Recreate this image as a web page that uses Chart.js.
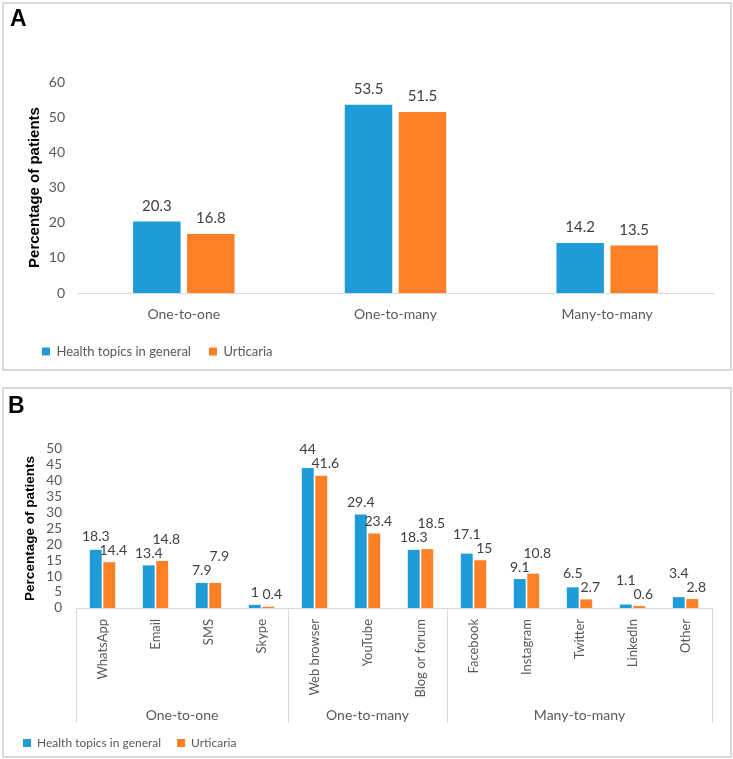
<!DOCTYPE html>
<html>
<head>
<meta charset="utf-8">
<script src="https://cdn.jsdelivr.net/npm/chart.js@4.4.1/dist/chart.umd.min.js"></script>
<style>
  body { margin: 0; background: #fff; width: 733px; height: 759px; position: relative; overflow: hidden; }
  .frame { position: absolute; border: 2px solid #d9d9d9; box-sizing: border-box; }
  .wrap { position: absolute; }
  .tag { position: absolute; font: bold 23px/23px 'Liberation Sans', Arial, sans-serif; color: #000; }
</style>
</head>
<body>
<div class="frame" style="left:2px;top:2px;width:730px;height:369px"></div>
<div class="frame" style="left:2px;top:387px;width:730px;height:371px"></div>
<div class="wrap" style="left:4px;top:4px;width:726px;height:364px"><canvas id="chartA"></canvas></div>
<div class="wrap" style="left:4px;top:389px;width:726px;height:370px"><canvas id="chartB"></canvas></div>
<div class="tag" style="left:10px;top:7px">A</div>
<div class="tag" style="left:8px;top:394px">B</div>
<script>
  // series
  const seriesNames = ['Health topics in general', 'Urticaria'];
  const seriesColors = ['#1f9cd8', '#fe7f26'];

  // panel A: type of communication
  const typeLabels = ['One-to-one', 'One-to-many', 'Many-to-many'];
  const typeGeneral = [20.3, 53.5, 14.2];
  const typeUrticaria = [16.8, 51.5, 13.5];

  // panel B: channel
  const channelLabels = ['WhatsApp', 'Email', 'SMS', 'Skype', 'Web browser', 'YouTube',
    'Blog or forum', 'Facebook', 'Instagram', 'Twitter', 'LinkedIn', 'Other'];
  const channelGeneral = [18.3, 13.4, 7.9, 1, 44, 29.4, 18.3, 17.1, 9.1, 6.5, 1.1, 3.4];
  const channelUrticaria = [14.4, 14.8, 7.9, 0.4, 41.6, 23.4, 18.5, 15, 10.8, 2.7, 0.6, 2.8];
  const channelGroups = ['One-to-one', 'One-to-many', 'Many-to-many'];
  const channelGroupSizes = [4, 3, 5];

  const yTitle = 'Percentage of patients';

  Chart.defaults.font.family = 'Lato';
  Chart.defaults.color = '#595959';

  // number above every bar; if the two labels of a category collide,
  // the one of the taller bar is lifted (like the original)
  const valueLabels = {
    id: 'valueLabels',
    afterDatasetsDraw(chart, args, opts) {
      const ctx = chart.ctx;
      const h = opts.size;
      ctx.save();
      ctx.font = opts.size + 'px Lato';
      ctx.fillStyle = '#404040';
      ctx.textAlign = 'center';
      ctx.textBaseline = 'bottom';
      const ds = chart.data.datasets;
      const metas = ds.map((d, i) => chart.getDatasetMeta(i));
      chart.data.labels.forEach((lab, j) => {
        const items = ds.map((d, i) => {
          const bar = metas[i].data[j];
          const text = String(d.data[j]);
          const w = ctx.measureText(text).width;
          const x = bar.x + (opts.shift ? opts.shift[i] : 0);
          return { text, x, y: bar.y - opts.offset, w, v: d.data[j] };
        });
        if (opts.avoid && items.length === 2) {
          const [a, b] = items;
          const overlapX = Math.abs(a.x - b.x) < (a.w + b.w) / 2;
          const overlapY = Math.abs(a.y - b.y) < h;
          if (overlapX && overlapY) {
            const up = a.v > b.v ? a : b;
            const other = up === a ? b : a;
            up.y = Math.min(up.y, other.y - h);
          }
        }
        items.forEach(it => ctx.fillText(it.text, it.x, it.y));
      });
      ctx.restore();
    }
  };

  // second level of category labels with separators
  const groupAxis = {
    id: 'groupAxis',
    afterDraw(chart, args, opts) {
      if (!opts.groups) return;
      const x = chart.scales.x, area = chart.chartArea, ctx = chart.ctx;
      const half = (x.getPixelForTick(1) - x.getPixelForTick(0)) / 2;
      ctx.save();
      ctx.strokeStyle = '#d9d9d9';
      ctx.lineWidth = 1;
      ctx.font = '14px Lato';
      ctx.fillStyle = '#595959';
      ctx.textAlign = 'center';
      ctx.textBaseline = 'middle';
      const edges = [x.getPixelForTick(0) - half];
      let start = 0;
      opts.sizes.forEach((n, g) => {
        const left = x.getPixelForTick(start) - half;
        const right = x.getPixelForTick(start + n - 1) + half;
        ctx.fillText(opts.groups[g], (left + right) / 2, opts.labelY);
        edges.push(right);
        start += n;
      });
      edges.forEach(e => {
        const px = Math.round(e) + 0.5;
        ctx.beginPath();
        ctx.moveTo(px, area.bottom);
        ctx.lineTo(px, opts.lineBottom);
        ctx.stroke();
      });
      ctx.restore();
    }
  };

  function makeDatasets(a, b) {
    return [a, b].map((d, i) => ({
      label: seriesNames[i],
      data: d,
      backgroundColor: seriesColors[i],
      borderWidth: 0,
      categoryPercentage: 0.51,
      barPercentage: 0.88
    }));
  }

  new Chart(document.getElementById('chartA'), {
    type: 'bar',
    data: { labels: typeLabels, datasets: makeDatasets(typeGeneral, typeUrticaria) },
    plugins: [valueLabels],
    options: {
      responsive: true,
      maintainAspectRatio: false,
      animation: false,
      layout: { padding: { left: 20, right: 17, top: 78, bottom: 0 } },
      plugins: {
        legend: {
          position: 'bottom', align: 'start',
          labels: { boxWidth: 8, boxHeight: 8, padding: 18, font: { size: 13 }, color: '#595959' }
        },
        tooltip: { enabled: false },
        valueLabels: { size: 15, offset: 8 }
      },
      scales: {
        x: {
          grid: { display: false, drawTicks: false },
          border: { color: '#d9d9d9', width: 1 },
          ticks: { padding: 13, font: { size: 14 } },
          afterFit(s) { s.height = 34; }
        },
        y: {
          min: 0, max: 60,
          grid: { display: false, drawTicks: false },
          border: { display: false },
          ticks: { stepSize: 10, padding: 13, font: { size: 14 }, autoSkip: false },
          title: {
            display: true, text: yTitle, color: '#000',
            font: { family: 'Liberation Sans', size: 15, weight: 'bold' },
            padding: { top: 2, bottom: 0 }
          },
          afterFit(s) { s.width = 54; }
        }
      }
    }
  });

  new Chart(document.getElementById('chartB'), {
    type: 'bar',
    data: { labels: channelLabels, datasets: makeDatasets(channelGeneral, channelUrticaria) },
    plugins: [valueLabels, groupAxis],
    options: {
      responsive: true,
      maintainAspectRatio: false,
      animation: false,
      layout: { padding: { left: 3, right: 18, top: 60, bottom: 0 } },
      plugins: {
        legend: {
          position: 'bottom', align: 'start',
          labels: { boxWidth: 8, boxHeight: 8, padding: 16, font: { size: 12 }, color: '#595959' }
        },
        tooltip: { enabled: false },
        valueLabels: { size: 14, offset: 5, shift: [0, 4], avoid: true },
        groupAxis: { groups: channelGroups, sizes: channelGroupSizes, labelY: 326, lineBottom: 334 }
      },
      scales: {
        x: {
          grid: { display: false, drawTicks: false },
          border: { color: '#d9d9d9', width: 1 },
          ticks: { padding: 11, minRotation: 90, maxRotation: 90, autoSkip: false, font: { size: 13 } },
          afterFit(s) { s.height = 113; }
        },
        y: {
          min: 0, max: 50,
          grid: { display: false, drawTicks: false },
          border: { display: false },
          ticks: { stepSize: 5, padding: 14, font: { size: 13.5 }, autoSkip: false },
          title: {
            display: true, text: yTitle, color: '#000',
            font: { family: 'Liberation Sans', size: 13.5, weight: 'bold' },
            padding: { top: 15, bottom: 0 }
          },
          afterFit(s) { s.width = 69; }
        }
      }
    }
  });
</script>
</body>
</html>
